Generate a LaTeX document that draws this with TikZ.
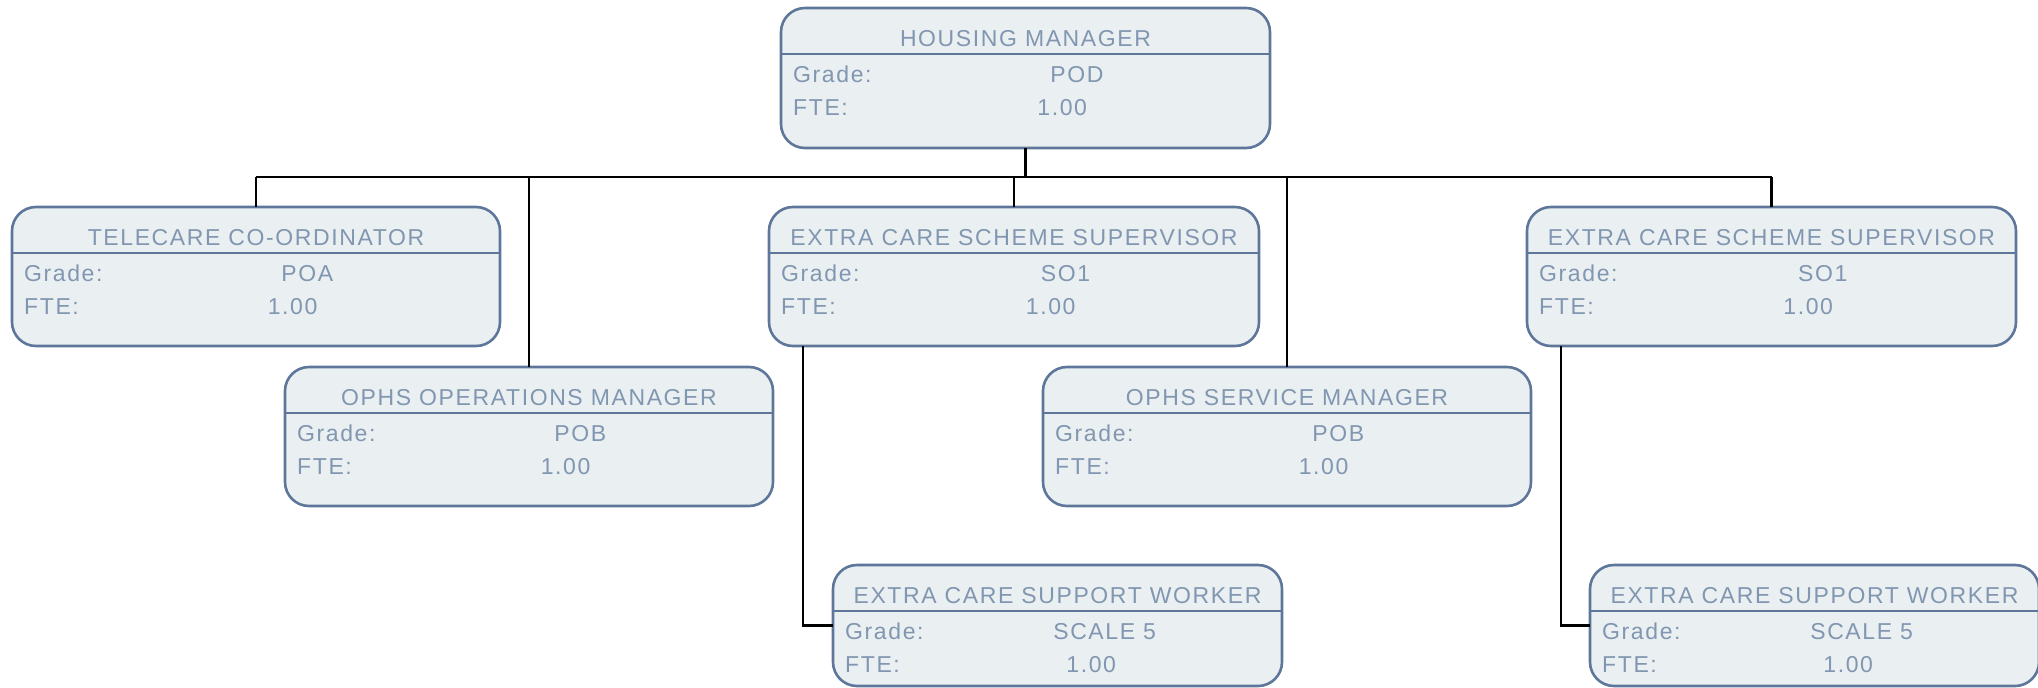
\documentclass[tikz,border=0pt]{standalone}
\usepackage{fontspec}
\setmainfont{Liberation Sans}[LetterSpace=7]
\usetikzlibrary{calc}
\definecolor{boxfill}{HTML}{EAEFF2}
\definecolor{boxdraw}{HTML}{5E7699}
\definecolor{boxtext}{HTML}{8196B0}
\tikzset{
  unitbox/.style={draw=boxdraw, fill=boxfill, line width=2.6pt, rounded corners=24pt, inner sep=0pt, outer sep=0pt},
  unitline/.style={draw=boxdraw, line width=2.4pt},
  unittext/.style={text=boxtext, font=\fontsize{23}{27}\selectfont, inner sep=0pt, anchor=base},
  link/.style={draw=black, line width=2.5pt}
}
\newcommand\orgunit[8]{%
  \node[unitbox, minimum width=#4pt, minimum height=#5pt, anchor=north west] (#1) at (#2,#3) {};
  \draw[unitline] ($(#1.north west)+(0,46)$) -- ($(#1.north east)+(0,46)$);
  \coordinate (#1-tc) at ($(#1.north)+(0,38)$);
  \coordinate (#1-gl) at ($(#1.north west)+(12,74)$);
  \coordinate (#1-fl) at ($(#1.north west)+(12,107)$);
  \coordinate (#1-gv) at ($($(#1.north west)!0.605!(#1.north east)$)+(0,74)$);
  \coordinate (#1-fv) at ($($(#1.north west)!0.575!(#1.north east)$)+(0,107)$);
  \node[unittext] (#1-title) at (#1-tc) {#6};
  \node[unittext, anchor=base west] (#1-glab) at (#1-gl) {Grade:};
  \node[unittext, anchor=base west] (#1-flab) at (#1-fl) {FTE:};
  \node[unittext] (#1-gval) at (#1-gv) {#7};
  \node[unittext] (#1-fval) at (#1-fv) {#8};
}
\begin{document}
\begin{tikzpicture}[x=1pt,y=-1pt]
\useasboundingbox (0,0) rectangle (2038,688);
\orgunit{hm}{781}{8}{489}{140}{HOUSING MANAGER}{POD}{1.00}
\orgunit{tc}{12}{207}{488}{139}{TELECARE CO-ORDINATOR}{POA}{1.00}
\orgunit{esm}{769}{207}{490}{139}{EXTRA CARE SCHEME SUPERVISOR}{SO1}{1.00}
\orgunit{esr}{1527}{207}{489}{139}{EXTRA CARE SCHEME SUPERVISOR}{SO1}{1.00}
\orgunit{opm}{285}{367}{488}{139}{OPHS OPERATIONS MANAGER}{POB}{1.00}
\orgunit{osm}{1043}{367}{488}{139}{OPHS SERVICE MANAGER}{POB}{1.00}
\orgunit{swm}{833}{565}{449}{121}{EXTRA CARE SUPPORT WORKER}{SCALE 5}{1.00}
\orgunit{swr}{1590}{565}{449}{121}{EXTRA CARE SUPPORT WORKER}{SCALE 5}{1.00}
\coordinate (bus) at (0,177);
\draw[link] (hm.south) -- (hm.south |- bus);
\draw[link] (tc.north |- bus) -- (esr.north |- bus);
\foreach \n in {tc,opm,esm,osm,esr}{
  \draw[link] (\n.north) -- (\n.north |- bus);
}
\draw[link] ($(esm.south west)+(34,0)$) |- (swm.west);
\draw[link] ($(esr.south west)+(34,0)$) |- (swr.west);
\end{tikzpicture}
\end{document}
